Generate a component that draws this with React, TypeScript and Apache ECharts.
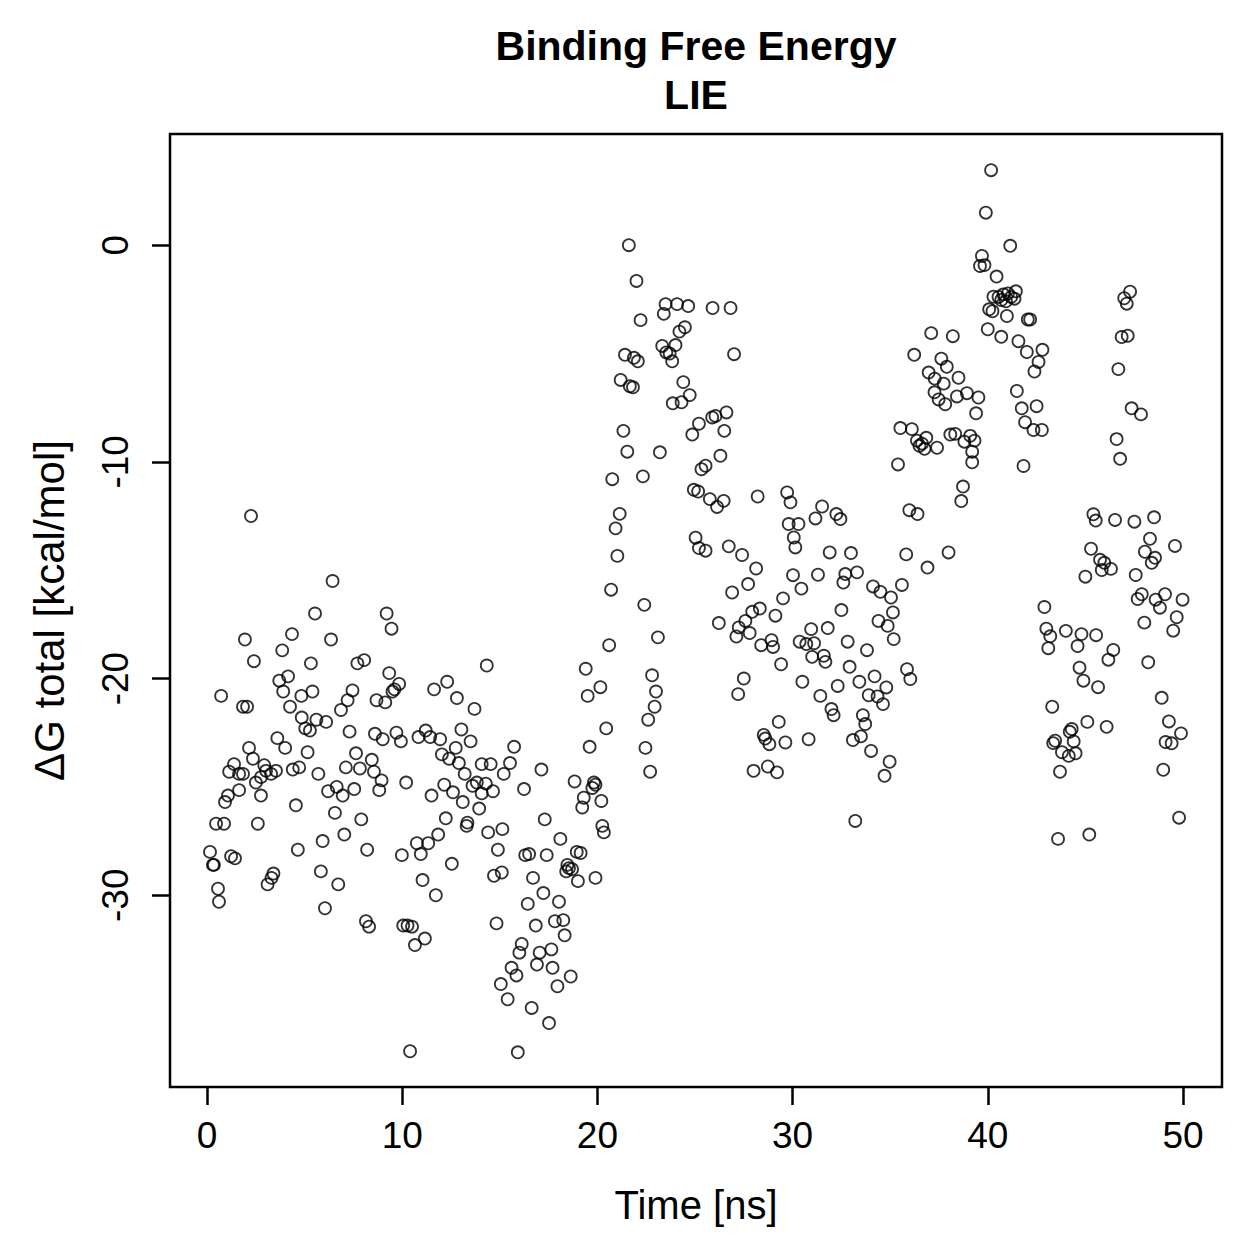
import React, { useEffect, useRef } from "react";
import * as echarts from "echarts";

// LIE binding free energy along the trajectory: [time (ns), ΔG total (kcal/mol)]
const segment0to10: [number, number][] = [
  [0.15, -28.0], [0.3, -28.6], [0.35, -28.6], [0.46, -26.7], [0.56, -29.7], [0.61, -30.3], [0.72, -20.8],
  [0.87, -26.7], [0.92, -25.7], [1.07, -25.4], [1.13, -24.3], [1.23, -28.2], [1.38, -23.95], [1.43, -28.3],
  [1.64, -24.4], [1.64, -25.15], [1.84, -24.4], [1.84, -21.3], [1.94, -18.2], [2.05, -21.3], [2.15, -23.2],
  [2.25, -12.5], [2.35, -23.7], [2.4, -19.2], [2.5, -24.8], [2.6, -26.7], [2.76, -25.4], [2.76, -24.55],
  [2.93, -24.0], [3.02, -24.26], [3.1, -29.5], [3.28, -24.4], [3.3, -29.2], [3.4, -29.0], [3.53, -24.26],
  [3.6, -22.75], [3.7, -20.1], [3.85, -18.7], [3.9, -20.6], [4.0, -23.2], [4.15, -19.9], [4.25, -21.3],
  [4.35, -17.95], [4.39, -24.2], [4.55, -25.85], [4.65, -27.9], [4.72, -24.1], [4.83, -20.8], [4.85, -21.8],
  [5.03, -22.3], [5.15, -23.4], [5.27, -22.4], [5.32, -19.3], [5.4, -20.6], [5.53, -17.0], [5.6, -21.9],
  [5.7, -24.4], [5.83, -28.9], [5.92, -27.5], [6.04, -30.6], [6.1, -22.0], [6.2, -25.2], [6.35, -18.2],
  [6.43, -15.5], [6.55, -26.2], [6.64, -25.0], [6.72, -29.5], [6.86, -21.45], [6.95, -25.4], [7.03, -27.2],
  [7.11, -24.1], [7.2, -21.0], [7.3, -22.45], [7.45, -20.55], [7.54, -25.1], [7.63, -23.45], [7.7, -19.3],
  [7.83, -24.15], [7.9, -26.5], [8.05, -19.15], [8.14, -31.2], [8.2, -27.9], [8.3, -31.45], [8.44, -23.75],
  [8.55, -24.3], [8.6, -22.55], [8.68, -21.0], [8.82, -25.15], [8.94, -24.7], [9.0, -22.8], [9.13, -21.1],
  [9.2, -17.0], [9.33, -19.75], [9.45, -17.7], [9.5, -20.6], [9.6, -20.5], [9.7, -22.5], [9.84, -20.25],
  [9.93, -22.9], [9.98, -28.15],
];

const segment10to20: [number, number][] = [
  [10.05, -31.4], [10.2, -24.8], [10.27, -31.4], [10.4, -37.2], [10.5, -31.45], [10.65, -32.3], [10.75, -27.6],
  [10.83, -22.7], [10.95, -28.1], [11.04, -29.3], [11.16, -32.0], [11.2, -22.4], [11.33, -27.6], [11.43, -22.7],
  [11.5, -25.4], [11.63, -20.5], [11.72, -30.0], [11.84, -27.2], [11.94, -22.8], [12.03, -23.5], [12.15, -24.9],
  [12.23, -26.45], [12.3, -20.15], [12.4, -23.7], [12.54, -28.55], [12.6, -25.25], [12.74, -23.2], [12.8, -20.9],
  [12.9, -23.9], [13.03, -22.35], [13.1, -25.7], [13.2, -24.4], [13.3, -26.8], [13.34, -26.65], [13.5, -22.9],
  [13.6, -24.95], [13.7, -21.4], [13.82, -24.8], [13.94, -26.0], [14.07, -23.95], [14.07, -25.3], [14.28, -24.85],
  [14.33, -19.4], [14.4, -27.1], [14.53, -23.95], [14.65, -25.2], [14.7, -29.1], [14.83, -31.3], [14.9, -27.9],
  [15.05, -34.1], [15.1, -28.95], [15.13, -26.95], [15.2, -24.4], [15.4, -34.8],
  [15.52, -23.9], [15.6, -33.35], [15.73, -23.15], [15.85, -33.7], [15.92, -37.25], [16.0, -32.65], [16.12, -32.25],
  [16.24, -25.1], [16.3, -28.15], [16.43, -30.4], [16.5, -28.1], [16.63, -35.2], [16.7, -29.2], [16.84, -31.4],
  [16.9, -33.2], [17.04, -32.65], [17.13, -24.2], [17.23, -29.9], [17.3, -26.5], [17.4, -28.15], [17.52, -35.9],
  [17.64, -32.5], [17.7, -33.35], [17.82, -31.2], [17.95, -34.2], [18.03, -30.3], [18.1, -27.4], [18.25, -31.15],
  [18.32, -31.85], [18.4, -28.9], [18.46, -28.6], [18.54, -28.75], [18.63, -33.75], [18.7, -28.8], [18.83, -24.75],
  [18.94, -28.0], [19.0, -29.35], [19.14, -28.05], [19.22, -25.95], [19.3, -25.5], [19.4, -19.55], [19.5, -20.8],
  [19.6, -23.15], [19.74, -25.05], [19.82, -24.8], [19.9, -24.9], [19.9, -29.2],
];

const segment20to30: [number, number][] = [
  [20.15, -20.4], [20.2, -25.65], [20.25, -26.8], [20.33, -27.1], [20.45, -22.3], [20.6, -18.46], [20.7, -15.9],
  [20.76, -10.8], [20.93, -13.07], [21.02, -14.34], [21.14, -12.4], [21.19, -6.22], [21.33, -8.57], [21.41, -5.06],
  [21.53, -9.53], [21.61, 0.0], [21.66, -6.51], [21.82, -6.56], [21.87, -5.2], [22.0, -1.65], [22.07, -5.36],
  [22.21, -3.46], [22.33, -10.67], [22.4, -16.6], [22.46, -23.2], [22.6, -21.9], [22.7, -24.3], [22.8, -19.85],
  [22.93, -21.3], [23.0, -20.6], [23.1, -18.1], [23.2, -9.56], [23.32, -4.65], [23.4, -3.17], [23.49, -2.72],
  [23.53, -4.95], [23.7, -5.0], [23.83, -5.36], [23.86, -7.3], [24.0, -4.61], [24.08, -2.72], [24.2, -3.99],
  [24.31, -7.25], [24.4, -6.32], [24.48, -3.79], [24.65, -2.81], [24.73, -6.92], [24.86, -8.74], [24.94, -11.29],
  [25.03, -13.5], [25.16, -11.37], [25.2, -8.24], [25.2, -13.98], [25.33, -10.34],
  [25.54, -10.18], [25.54, -14.1], [25.76, -11.72], [25.88, -7.95], [25.9, -2.9], [26.05, -7.88], [26.13, -12.08],
  [26.22, -17.44], [26.3, -9.72], [26.47, -11.8], [26.5, -8.57], [26.61, -7.72], [26.73, -13.9], [26.82, -2.9],
  [26.9, -16.03], [27.0, -5.03], [27.12, -18.06], [27.21, -20.72], [27.24, -17.64], [27.41, -14.3], [27.5, -20.0],
  [27.58, -17.34], [27.72, -15.64], [27.8, -17.9], [27.93, -16.92], [28.0, -24.26], [28.13, -14.92], [28.21, -11.6],
  [28.32, -16.77], [28.39, -18.46], [28.52, -22.6], [28.6, -22.77], [28.73, -24.06], [28.81, -23.03], [28.92, -18.23],
  [29.0, -18.54], [29.12, -17.1], [29.2, -24.33], [29.29, -22.0], [29.41, -19.34], [29.51, -16.3], [29.63, -22.95],
  [29.72, -11.41], [29.8, -12.87], [29.89, -11.87],
];

const segment30to40: [number, number][] = [
  [30.02, -15.23], [30.06, -13.49], [30.14, -13.95], [30.3, -12.87], [30.36, -18.3], [30.45, -15.85], [30.5, -20.15],
  [30.7, -18.41], [30.82, -22.8], [30.95, -17.72], [31.0, -19.0], [31.1, -18.37], [31.17, -12.61], [31.3, -15.21],
  [31.42, -20.8], [31.51, -12.06], [31.6, -18.95], [31.68, -19.23], [31.8, -17.67], [31.9, -14.18], [31.99, -21.41],
  [32.1, -21.69], [32.24, -12.41], [32.31, -20.34], [32.45, -12.64], [32.5, -16.84], [32.6, -15.57], [32.7, -15.18],
  [32.82, -18.3], [32.92, -19.46], [32.99, -14.21], [33.09, -22.84], [33.21, -26.57], [33.3, -15.1], [33.42, -20.15],
  [33.5, -22.67], [33.6, -21.69], [33.72, -22.1], [33.81, -18.69], [33.9, -20.77], [34.02, -23.34], [34.12, -15.75],
  [34.2, -19.9], [34.35, -20.83], [34.4, -17.34], [34.5, -16.0], [34.63, -21.18], [34.71, -24.49], [34.8, -20.41],
  [34.87, -17.57], [34.97, -23.84], [35.04, -16.26], [35.14, -16.95], [35.18, -18.18],
  [35.4, -10.12], [35.52, -8.44], [35.6, -15.68], [35.82, -14.27], [35.86, -19.57], [35.98, -12.23], [36.03, -20.02],
  [36.11, -8.49], [36.23, -5.06], [36.37, -9.02], [36.4, -12.41], [36.5, -9.26], [36.63, -9.16], [36.76, -9.4],
  [36.85, -8.89], [36.91, -14.88], [36.97, -5.88], [37.1, -4.06], [37.27, -6.79], [37.28, -6.16], [37.4, -9.35],
  [37.48, -7.12], [37.62, -5.24], [37.74, -6.39], [37.82, -7.34], [37.9, -5.61], [37.99, -14.18], [38.08, -8.74],
  [38.21, -4.2], [38.33, -8.71], [38.42, -6.98], [38.5, -6.12], [38.64, -11.81], [38.73, -11.14], [38.8, -9.07],
  [38.93, -6.83], [39.1, -8.8], [39.2, -9.53], [39.2, -10.02], [39.32, -9.02], [39.4, -7.76], [39.52, -7.03],
  [39.6, -0.96], [39.7, -0.5], [39.83, -0.92], [39.9, 1.5],
];

const segment40to50: [number, number][] = [
  [40.0, -3.88], [40.07, -2.96], [40.17, 3.46], [40.24, -3.05], [40.29, -2.38], [40.45, -1.45], [40.55, -2.39],
  [40.69, -2.53], [40.69, -4.23], [40.8, -2.27], [40.93, -2.59], [40.98, -3.27], [41.03, -2.23], [41.15, -0.03],
  [41.2, -2.39], [41.37, -2.47], [41.44, -2.13], [41.49, -6.73], [41.57, -4.43], [41.74, -7.53], [41.83, -10.19],
  [41.91, -8.17], [42.0, -4.93], [42.05, -3.43], [42.17, -3.43], [42.34, -8.53], [42.39, -5.83], [42.5, -7.43],
  [42.6, -5.39], [42.77, -8.53], [42.8, -4.83], [42.9, -16.7], [43.0, -17.7], [43.1, -18.6], [43.2, -18.05],
  [43.3, -21.3], [43.35, -22.98], [43.45, -22.87], [43.6, -27.4], [43.7, -24.3], [43.8, -23.4], [44.0, -17.8],
  [44.15, -23.57], [44.2, -22.46], [44.3, -22.33], [44.4, -22.9], [44.5, -23.45], [44.6, -18.5], [44.7, -19.5],
  [44.8, -17.95], [44.9, -20.1],
  [45.0, -15.3], [45.1, -22.0], [45.2, -27.2], [45.29, -14.01], [45.41, -12.42], [45.53, -12.71], [45.55, -18.0],
  [45.65, -20.4], [45.75, -14.52], [45.84, -14.99], [45.97, -14.66], [46.09, -22.23], [46.18, -19.13], [46.31, -14.94],
  [46.43, -18.68], [46.52, -12.68], [46.6, -8.95], [46.69, -5.72], [46.78, -9.86], [46.86, -4.24], [46.99, -2.45],
  [47.12, -2.7], [47.17, -4.18], [47.29, -2.15], [47.37, -7.53], [47.51, -12.76], [47.58, -15.22], [47.68, -16.33],
  [47.85, -7.81], [47.89, -16.11], [48.02, -17.42], [48.05, -14.15], [48.22, -19.25], [48.31, -13.55], [48.4, -14.66],
  [48.52, -12.56], [48.57, -14.43], [48.6, -16.36], [48.82, -16.73], [48.91, -20.89], [48.99, -24.21], [49.08, -16.11],
  [49.11, -22.93], [49.28, -21.98], [49.42, -22.99], [49.5, -17.79], [49.59, -13.88], [49.68, -17.17], [49.8, -26.42],
  [49.9, -22.53], [49.98, -16.36],
];

const xTicks = [0, 10, 20, 30, 40, 50];
const yTicks = [0, -10, -20, -30];

const FONT = '"Liberation Sans", Arial, Helvetica, sans-serif';

export default function App() {
  const ref = useRef<HTMLDivElement>(null);

  useEffect(() => {
    if (!ref.current) return;
    const chart = echarts.init(ref.current, null, { renderer: "svg" });
    const points = [
      ...segment0to10,
      ...segment10to20,
      ...segment20to30,
      ...segment30to40,
      ...segment40to50,
    ];

    const titleStyle = {
      x: 0,
      y: 0,
      textAlign: "center",
      textVerticalAlign: "middle",
      fontFamily: FONT,
      fontWeight: "bold",
      fontSize: 41,
      fill: "#000",
    };

    chart.setOption({
      animation: false,
      backgroundColor: "#ffffff",
      textStyle: { fontFamily: FONT },
      grid: {
        left: 170,
        top: 134,
        width: 1052,
        height: 953,
        show: true,
        borderColor: "#000",
        borderWidth: 2.5,
        backgroundColor: "transparent",
        containLabel: false,
      },
      graphic: [
        { type: "text", x: 696, y: 46, style: { ...titleStyle, text: "Binding Free Energy" } },
        { type: "text", x: 696, y: 95, style: { ...titleStyle, text: "LIE" } },
      ],
      xAxis: {
        type: "value",
        min: -1.9,
        max: 52.0,
        name: "Time [ns]",
        nameLocation: "middle",
        nameGap: 98,
        nameTextStyle: { fontSize: 40, color: "#000", fontFamily: FONT },
        splitLine: { show: false },
        axisLine: { show: false, onZero: false },
        axisTick: {
          show: true,
          inside: false,
          length: 18,
          customValues: xTicks,
          lineStyle: { color: "#000", width: 2.5 },
        },
        axisLabel: {
          customValues: xTicks,
          margin: 30,
          fontSize: 37,
          color: "#000",
          fontFamily: FONT,
        },
      },
      yAxis: {
        type: "value",
        min: -38.85,
        max: 5.13,
        name: "ΔG total [kcal/mol]",
        nameLocation: "middle",
        nameRotate: 90,
        nameGap: 100,
        nameTextStyle: { fontSize: 42, color: "#000", fontFamily: FONT },
        splitLine: { show: false },
        axisLine: { show: false, onZero: false },
        axisTick: {
          show: true,
          inside: false,
          length: 18,
          customValues: yTicks,
          lineStyle: { color: "#000", width: 2.5 },
        },
        axisLabel: {
          customValues: yTicks,
          rotate: 90,
          margin: 36,
          fontSize: 37,
          color: "#000",
          fontFamily: FONT,
        },
      },
      series: [
        {
          type: "scatter",
          data: points,
          symbol: "circle",
          symbolSize: 12,
          silent: true,
          itemStyle: {
            color: "rgba(0,0,0,0)",
            borderColor: "#000",
            borderWidth: 1.8,
          },
        },
      ],
    });

    return () => chart.dispose();
  }, []);

  return (
    <div
      ref={ref}
      style={{ position: "fixed", left: 0, top: 0, width: 1259, height: 1259, background: "#fff" }}
    />
  );
}
